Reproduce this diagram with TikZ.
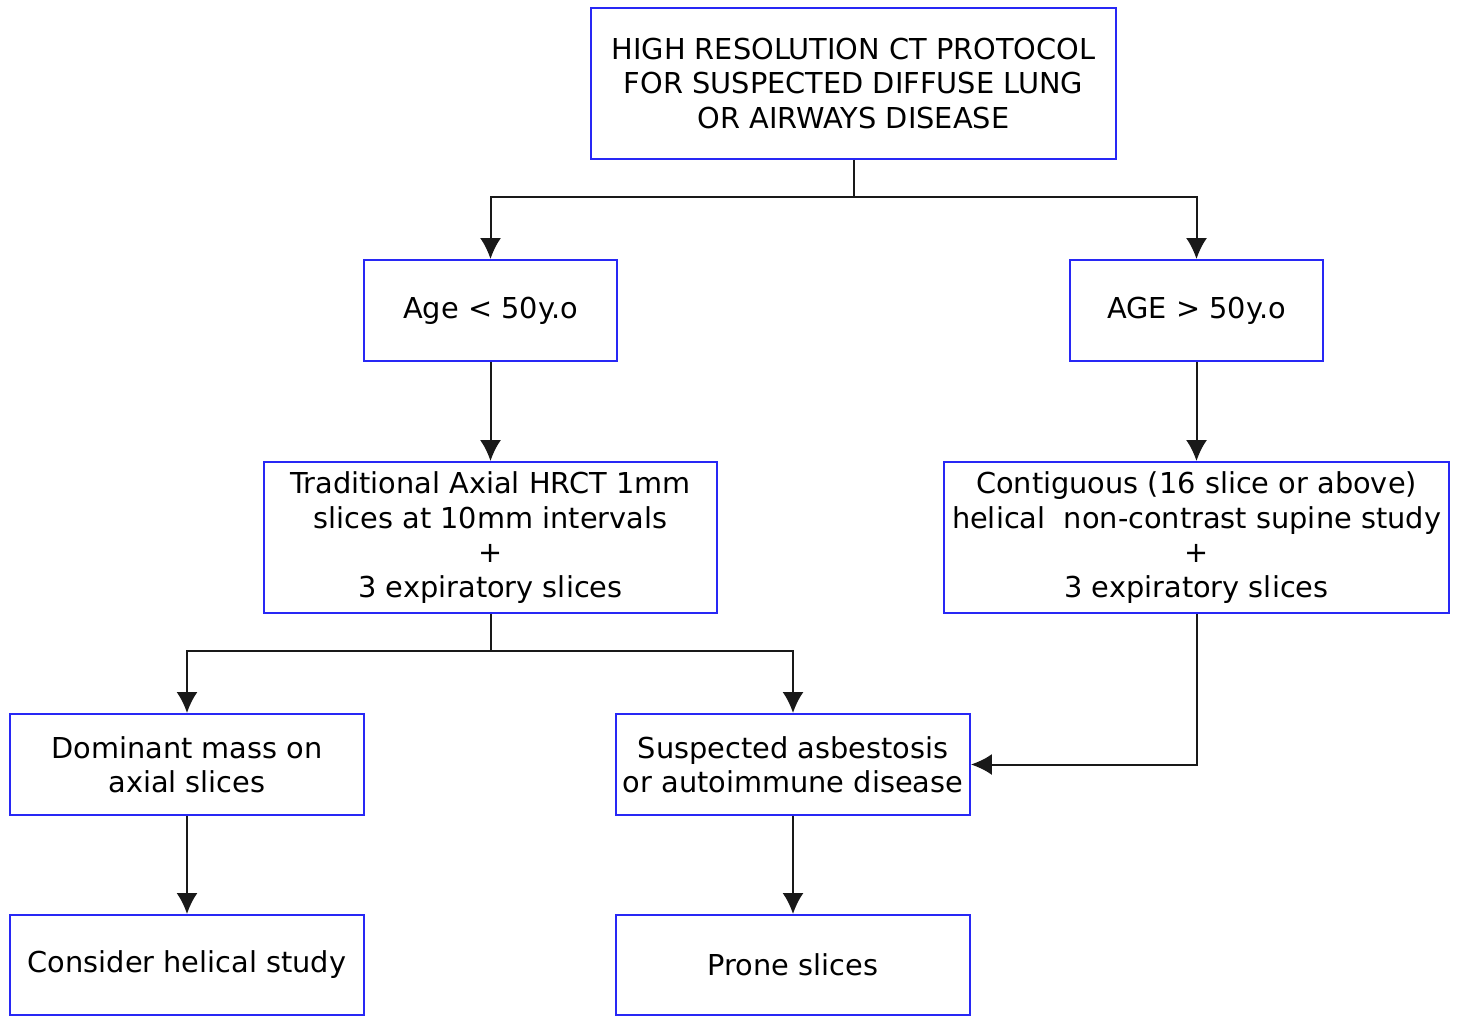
\documentclass[tikz,border=0pt]{standalone}
\usepackage{fontspec}
\setmainfont{DejaVu Sans}
\usetikzlibrary{arrows,arrows.meta,positioning}
\usetikzlibrary{calc}

\definecolor{boxblue}{RGB}{40,40,245}

\tikzset{
  box/.style={draw=boxblue, line width=0.04cm, fill=white, align=center,
    inner sep=0pt, font=\fontsize{16.4}{19.6}\selectfont},
  link/.style={draw=black!90, line width=0.04cm},
  >={Latex[length=0.42cm,width=0.42cm]}
}

\begin{document}
\begin{tikzpicture}[x=0.02cm,y=-0.02cm]
\useasboundingbox (0,0) rectangle (1458,1017);

\node[box, minimum width=10.5cm, minimum height=3.02cm] (proto) at (853.5,83.5)
  {HIGH RESOLUTION CT PROTOCOL\\FOR SUSPECTED DIFFUSE LUNG\\OR AIRWAYS DISEASE};

\node[box, minimum width=5.06cm, minimum height=2.02cm] (young) at (490.5,310.5) {Age < 50y.o};
\node[box, minimum width=5.06cm, minimum height=2.02cm] (old) at (1196.5,310.5) {AGE > 50y.o};

\node[box, minimum width=9.08cm, minimum height=3.02cm] (axial) at (490.5,537.5)
  {Traditional Axial HRCT 1mm\\slices at 10mm intervals\\+\\3 expiratory slices};
\node[box, minimum width=10.1cm, minimum height=3.02cm] (helix) at (1196.5,537.5)
  {Contiguous (16 slice or above)\\helical\ \ non-contrast supine study\\+\\3 expiratory slices};

\node[box, minimum width=7.08cm, minimum height=2.02cm] (mass) at (187,764.5)
  {Dominant mass on\\axial slices};
\node[box, minimum width=7.08cm, minimum height=2.02cm] (asbest) at (793,764.5)
  {Suspected asbestosis\\or autoimmune disease};

\node[box, minimum width=7.08cm, minimum height=2.0cm] (consider) at (187,965)
  {Consider helical study};
\node[box, minimum width=7.08cm, minimum height=2.0cm] (prone) at (793,965)
  {Prone slices};

% branches from the protocol box
\coordinate (split1) at (853.5,197);
\draw[link] (proto.south) -- (split1);
\draw[link,->] (split1) -| (young.north);
\draw[link,->] (split1) -| (old.north);

\draw[link,->] (young) -- (axial);
\draw[link,->] (old) -- (helix);

% branches from the axial box
\coordinate (split2) at (490.5,651);
\draw[link] (axial.south) -- (split2);
\draw[link,->] (split2) -| (mass.north);
\draw[link,->] (split2) -| (asbest.north);

\draw[link,->] (helix.south) |- (asbest.east);

\draw[link,->] (mass) -- (consider);
\draw[link,->] (asbest) -- (prone);
\end{tikzpicture}
\end{document}
